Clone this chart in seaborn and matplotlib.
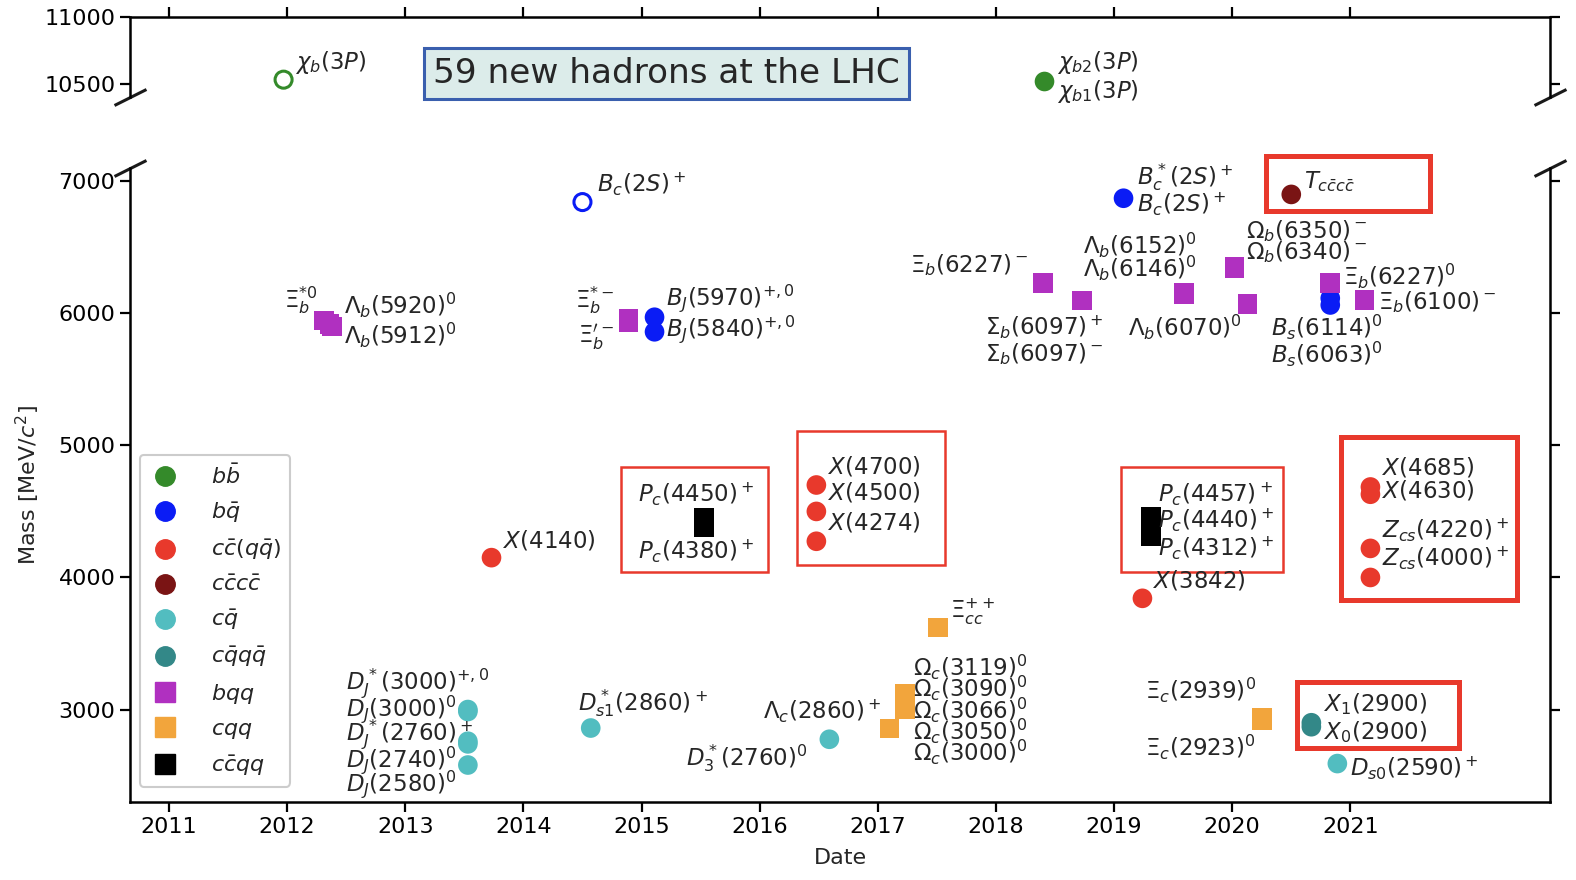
import numpy as np
import pandas as pd
import matplotlib
matplotlib.use('Agg')
import matplotlib.pyplot as plt
import seaborn as sns
from matplotlib.lines import Line2D
from matplotlib.patches import Rectangle

sns.set_theme(style='ticks')
plt.rcParams['font.family'] = ['DejaVu Sans']
plt.rcParams['mathtext.fontset'] = 'dejavusans'

# quark content categories (legend order)
kind_order = ['bb', 'bq', 'ccqq', 'cccc', 'cq', 'cqqq', 'bqq', 'cqq', 'ccqqq']
kind_labels = [r'$b\bar{b}$', r'$b\bar{q}$', r'$c\bar{c}(q\bar{q})$', r'$c\bar{c}c\bar{c}$',
               r'$c\bar{q}$', r'$c\bar{q}q\bar{q}$', r'$bqq$', r'$cqq$', r'$c\bar{c}qq$']
kind_colors = ['#348a2a', '#0a1cf5', '#e8392c', '#7a1414', '#52bdc0',
               '#338888', '#b030c0', '#f2a53c', '#000000']
kind_markers = ['o', 'o', 'o', 'o', 'o', 'o', 's', 's', 's']

# observed states: discovery date, mass [MeV], category
dates = [2018.41,
         2019.08, 2015.11, 2015.11, 2020.83, 2020.83,
         2013.73, 2016.48, 2016.48, 2016.48, 2019.24, 2021.17, 2021.17, 2021.17, 2021.17,
         2020.50,
         2013.53, 2013.53, 2013.53, 2013.53, 2013.53, 2014.57, 2016.59, 2020.89,
         2020.67, 2020.67,
         2012.31, 2012.36, 2012.38, 2014.89, 2014.89, 2018.40, 2018.73, 2018.73,
         2019.59, 2019.59, 2020.13, 2020.02, 2020.02, 2020.83, 2021.12,
         2017.51, 2017.10, 2017.23, 2017.23, 2017.23, 2017.23, 2017.23, 2020.25, 2020.25,
         2015.53, 2015.53, 2019.31, 2019.31, 2019.31]
masses = [10520,
          6871, 5970, 5860, 6114, 6063,
          4150, 4700, 4500, 4274, 3842, 4685, 4630, 4220, 4000,
          6900,
          3000, 2985, 2760, 2740, 2580, 2860, 2775, 2591,
          2900, 2870,
          5945, 5920, 5900, 5955, 5935, 6227, 6097, 6097,
          6152, 6146, 6070, 6350, 6340, 6227, 6100,
          3621, 2856, 3119, 3090, 3066, 3050, 3000, 2939, 2923,
          4450, 4380, 4457, 4440, 4312]
kinds = ['bb',
         'bq', 'bq', 'bq', 'bq', 'bq',
         'ccqq', 'ccqq', 'ccqq', 'ccqq', 'ccqq', 'ccqq', 'ccqq', 'ccqq', 'ccqq',
         'cccc',
         'cq', 'cq', 'cq', 'cq', 'cq', 'cq', 'cq', 'cq',
         'cqqq', 'cqqq',
         'bqq', 'bqq', 'bqq', 'bqq', 'bqq', 'bqq', 'bqq', 'bqq',
         'bqq', 'bqq', 'bqq', 'bqq', 'bqq', 'bqq', 'bqq',
         'cqq', 'cqq', 'cqq', 'cqq', 'cqq', 'cqq', 'cqq', 'cqq', 'cqq',
         'ccqqq', 'ccqqq', 'ccqqq', 'ccqqq', 'ccqqq']

# states drawn as open circles
open_dates = [2011.97, 2014.50]
open_masses = [10530, 6842]
open_kinds = ['bb', 'bq']

# state names and where they are written
label_text = [r'$\chi_b(3P)$', r'$\chi_{b2}(3P)$', r'$\chi_{b1}(3P)$',
              r'$B_c(2S)^+$', r'$B_c^*(2S)^+$', r'$B_c(2S)^+$', r'$T_{c\bar{c}c\bar{c}}$',
              r'$\Xi_b(6227)^-$', r'$\Lambda_b(6152)^0$', r'$\Lambda_b(6146)^0$',
              r'$\Omega_b(6350)^-$', r'$\Omega_b(6340)^-$', r'$\Xi_b(6227)^0$', r'$\Xi_b(6100)^-$',
              r'$\Sigma_b(6097)^+$', r'$\Sigma_b(6097)^-$', r'$\Lambda_b(6070)^0$',
              r'$B_s(6114)^0$', r'$B_s(6063)^0$',
              r'$\Xi_b^{*0}$', r'$\Lambda_b(5920)^0$', r'$\Lambda_b(5912)^0$',
              r'$\Xi_b^{*-}$', r'$\Xi_b^{\prime -}$', r'$B_J(5970)^{+,0}$', r'$B_J(5840)^{+,0}$',
              r'$X(4140)$', r'$P_c(4450)^+$', r'$P_c(4380)^+$',
              r'$X(4700)$', r'$X(4500)$', r'$X(4274)$',
              r'$P_c(4457)^+$', r'$P_c(4440)^+$', r'$P_c(4312)^+$', r'$X(3842)$',
              r'$X(4685)$', r'$X(4630)$', r'$Z_{cs}(4220)^+$', r'$Z_{cs}(4000)^+$',
              r'$\Xi_{cc}^{++}$',
              r'$\Omega_c(3119)^0$', r'$\Omega_c(3090)^0$', r'$\Omega_c(3066)^0$',
              r'$\Omega_c(3050)^0$', r'$\Omega_c(3000)^0$',
              r'$\Lambda_c(2860)^+$', r'$D_3^*(2760)^0$', r'$D_{s1}^*(2860)^+$',
              r'$D_J^*(3000)^{+,0}$', r'$D_J(3000)^0$', r'$D_J^*(2760)^+$',
              r'$D_J(2740)^0$', r'$D_J(2580)^0$',
              r'$\Xi_c(2939)^0$', r'$\Xi_c(2923)^0$',
              r'$X_1(2900)$', r'$X_0(2900)$', r'$D_{s0}(2590)^+$']
label_x = [2012.07, 2018.52, 2018.52,
           2014.62, 2019.19, 2019.19, 2020.61,
           2018.28, 2019.70, 2019.70,
           2020.12, 2020.12, 2020.94, 2021.23,
           2017.91, 2017.91, 2019.12,
           2020.33, 2020.33,
           2012.26, 2012.48, 2012.48,
           2014.77, 2014.77, 2015.21, 2015.21,
           2013.83, 2014.97, 2014.97,
           2016.58, 2016.58, 2016.58,
           2019.37, 2019.37, 2019.37, 2019.33,
           2021.27, 2021.27, 2021.27, 2021.27,
           2017.61,
           2017.30, 2017.30, 2017.30, 2017.30, 2017.30,
           2016.03, 2015.38, 2014.46,
           2012.50, 2012.50, 2012.50, 2012.50, 2012.50,
           2019.26, 2019.26,
           2020.78, 2020.78, 2021.00]
label_y = [10660, 10660, 10440,
           6977, 7030, 6826, 7000,
           6364, 6515, 6341,
           6621, 6462, 6280, 6083,
           5894, 5689, 5894,
           5894, 5689,
           6098, 6061, 5833,
           6098, 5818, 6114, 5879,
           4280, 4629, 4197,
           4841, 4644, 4417,
           4629, 4432, 4220, 3977,
           4833, 4659, 4356, 4144,
           3742,
           3318, 3159, 2992, 2833, 2674,
           2985, 2629, 3045,
           3197, 3000, 2811, 2614, 2432,
           3144, 2712,
           3045, 2833, 2553]
label_ha = ['l', 'l', 'l',
            'l', 'l', 'l', 'l',
            'r', 'r', 'r',
            'l', 'l', 'l', 'l',
            'l', 'l', 'l',
            'l', 'l',
            'r', 'l', 'l',
            'r', 'r', 'l', 'l'] + ['l'] * 33

# highlighted exotic candidates: date range, mass range, heavy frame
box_d0 = [2014.83, 2016.32, 2019.06, 2020.92, 2020.55, 2020.29]
box_d1 = [2016.07, 2017.57, 2020.43, 2022.41, 2021.92, 2021.67]
box_m0 = [4045, 4098, 4045, 3826, 2712, 6773]
box_m1 = [4833, 5106, 4833, 5061, 3212, 7189]
box_heavy = [False, False, False, True, True, True]

years = list(range(2011, 2022))

df = pd.DataFrame({'date': dates, 'mass': masses, 'kind': kinds})
top = df[df['mass'] > 8000]
bottom = df[df['mass'] < 8000]

palette = dict(zip(kind_order, kind_colors))
marker_map = dict(zip(kind_order, kind_markers))

fig = plt.figure(figsize=(15.76, 8.8), dpi=100)
W, H = 1576, 880
ax1 = fig.add_axes([130 / W, 1 - 97 / H, 1420 / W, 80 / H])
ax2 = fig.add_axes([130 / W, 1 - 802 / H, 1420 / W, 634 / H])

for ax, part in [(ax1, top), (ax2, bottom)]:
    sns.scatterplot(data=part, x='date', y='mass', hue='kind', style='kind',
                    hue_order=kind_order, style_order=kind_order,
                    palette=palette, markers=marker_map, s=200, linewidth=0,
                    legend=False, ax=ax, zorder=3)
    for d, m, k in zip(open_dates, open_masses, open_kinds):
        if (m > 8000) == (ax is ax1):
            ax.scatter([d], [m], s=150, facecolors='none', edgecolors=palette[k],
                       linewidths=2.2, zorder=3)
    ax.set_xlim(2010.67, 2022.69)
    ax.set_xticks(years)
    ax.set_xlabel('')
    ax.set_ylabel('')
    for sp in ax.spines.values():
        sp.set_linewidth(1.8)
        sp.set_color('black')
    ax.tick_params(axis='both', which='major', length=7, width=1.6, direction='out',
                   labelsize=16, colors='black')
    ax.tick_params(axis='y', right=True, labelright=False)

ax1.set_ylim(10400, 11000)
ax1.set_yticks([10500, 11000])
ax1.spines['bottom'].set_visible(False)
ax1.xaxis.tick_top()
ax1.tick_params(axis='x', labeltop=False)

ax2.set_ylim(2300, 7100)
ax2.set_yticks([3000, 4000, 5000, 6000, 7000])
ax2.spines['top'].set_visible(False)
ax2.set_xticklabels([str(y) for y in years])
ax2.set_xlabel('Date', fontsize=16, labelpad=8)
ax2.set_ylabel(r'Mass [MeV/$c^2$]', fontsize=16, labelpad=12)

# broken-axis marks
kw = dict(marker=[(-1, -0.5), (1, 0.5)], markersize=23, linestyle='none',
          color='k', mec='k', mew=2.2, clip_on=False)
ax1.plot([0, 1], [0, 0], transform=ax1.transAxes, **kw)
ax2.plot([0, 1], [1, 1], transform=ax2.transAxes, **kw)

# names
for t, x, y, ha in zip(label_text, label_x, label_y, label_ha):
    ax = ax1 if y > 8000 else ax2
    ax.text(x, y, t, fontsize=16.5, ha='left' if ha == 'l' else 'right', va='center', zorder=4)

# highlight frames
for d0, d1, m0, m1, heavy in zip(box_d0, box_d1, box_m0, box_m1, box_heavy):
    ax2.add_patch(Rectangle((d0, m0), d1 - d0, m1 - m0, fill=False,
                            edgecolor='#e8392c', linewidth=3.6 if heavy else 1.8,
                            clip_on=False, zorder=2))

ax1.text(2015.21, 10575, '59 new hadrons at the LHC', fontsize=24.7, ha='center', va='center',
         bbox=dict(boxstyle='square,pad=0.26', facecolor='#dcecea', edgecolor='#3a5fae',
                   linewidth=2.2), zorder=5)

handles = [Line2D([0], [0], marker=mk, linestyle='none', markersize=14, color=c, mec=c)
           for mk, c in zip(kind_markers, kind_colors)]
leg = ax2.legend(handles, kind_labels, loc='lower left', bbox_to_anchor=(0.007, 0.024),
                 borderaxespad=0, fontsize=16, labelspacing=0.57, handlelength=1.5,
                 handletextpad=1.3, borderpad=0.4, frameon=True, fancybox=True, framealpha=1)
leg.get_frame().set_edgecolor('#cccccc')
leg.get_frame().set_linewidth(1.5)

fig.savefig('out.png', dpi=100)
